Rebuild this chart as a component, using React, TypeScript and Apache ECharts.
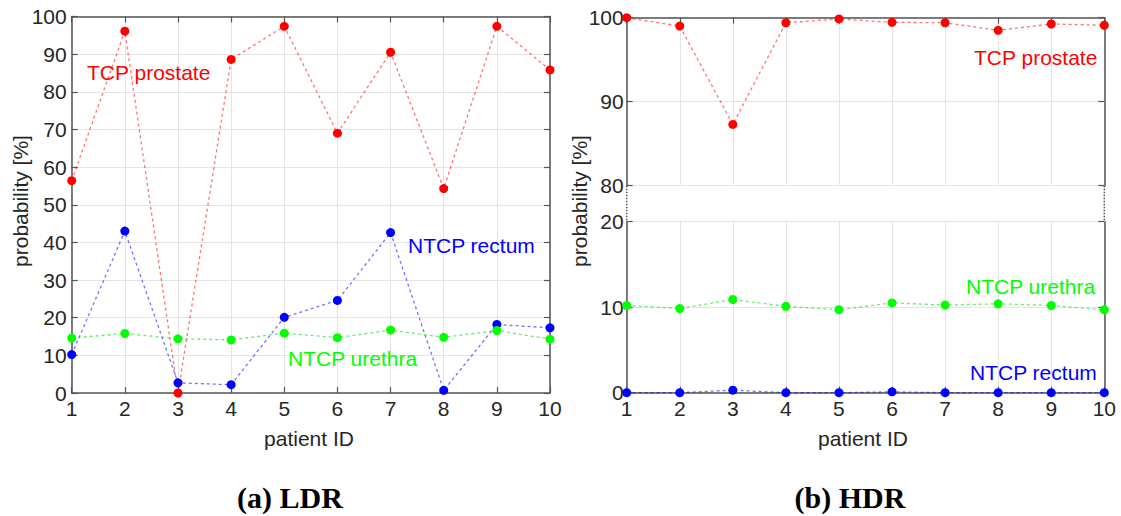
import React, { useEffect, useRef } from "react";
import * as echarts from "echarts";

const patients = [1, 2, 3, 4, 5, 6, 7, 8, 9, 10];
const ldrTcpProstate = [56.4, 96.1, 0.0, 88.6, 97.4, 69.0, 90.5, 54.3, 97.4, 85.8];
const ldrNtcpRectum = [10.2, 43.0, 2.7, 2.2, 20.1, 24.6, 42.6, 0.7, 18.2, 17.3];
const ldrNtcpUrethra = [14.6, 15.8, 14.4, 14.1, 15.9, 14.7, 16.7, 14.8, 16.6, 14.3];
const hdrTcpProstate = [100.0, 99.0, 87.3, 99.4, 99.85, 99.45, 99.4, 98.5, 99.25, 99.1];
const hdrNtcpUrethra = [10.2, 9.85, 10.9, 10.1, 9.7, 10.5, 10.25, 10.4, 10.2, 9.7];
const hdrNtcpRectum = [0.0, 0.0, 0.3, 0.0, 0.0, 0.1, 0.0, 0.0, 0.0, 0.0];

const RED = "#ff0000";
const BLUE = "#0000ff";
const GREEN = "#00ff00";
const AXIS = "#555555";
const GRIDC = "#e4e4e4";
const TXT = "#262626";
const FONT = '"Liberation Sans", Arial, sans-serif';

const pairs = (vals: number[]) => patients.map((p, i) => [p, vals[i]]);

export default function App() {
  const ref = useRef<HTMLDivElement>(null);
  useEffect(() => {
    document.body.style.margin = "0";
    if (!ref.current) return;
    const chart = echarts.init(ref.current, null, { renderer: "svg" });

    const axisLineStyle = (show: boolean) => ({
      show,
      onZero: false,
      lineStyle: { color: AXIS, width: 1.5 },
    });
    const tickStyle = (show: boolean) => ({
      show,
      inside: true,
      length: 6,
      lineStyle: { color: AXIS, width: 1.2 },
    });

    const xBottom = (gridIndex: number, labels: boolean, line: boolean) => ({
      type: "value",
      gridIndex,
      min: 1,
      max: 10,
      interval: 1,
      position: "bottom",
      axisLine: axisLineStyle(line),
      axisTick: tickStyle(line),
      axisLabel: {
        show: labels,
        margin: 5,
        color: TXT,
        fontSize: 21,
        fontFamily: FONT,
        showMinLabel: true,
        showMaxLabel: true,
      },
      splitLine: { show: true, lineStyle: { color: GRIDC, width: 1 } },
    });
    const xTop = (gridIndex: number, line: boolean) => ({
      type: "value",
      gridIndex,
      min: 1,
      max: 10,
      interval: 1,
      position: "top",
      axisLine: axisLineStyle(line),
      axisTick: tickStyle(line),
      axisLabel: { show: false },
      splitLine: { show: false },
    });
    const yLeft = (gridIndex: number, min: number, max: number, margin: number) => ({
      type: "value",
      gridIndex,
      min,
      max,
      interval: 10,
      position: "left",
      axisLine: axisLineStyle(true),
      axisTick: tickStyle(true),
      axisLabel: {
        show: true,
        margin,
        color: TXT,
        fontSize: 21,
        fontFamily: FONT,
        showMinLabel: true,
        showMaxLabel: true,
      },
      splitLine: { show: true, lineStyle: { color: GRIDC, width: 1 } },
    });
    const yRight = (gridIndex: number, min: number, max: number) => ({
      type: "value",
      gridIndex,
      min,
      max,
      interval: 10,
      position: "right",
      axisLine: axisLineStyle(true),
      axisTick: tickStyle(true),
      axisLabel: { show: false },
      splitLine: { show: false },
    });

    const lineSeries = (vals: number[], color: string, xi: number, yi: number, lineAlpha: string) => ({
      type: "line",
      xAxisIndex: xi,
      yAxisIndex: yi,
      data: pairs(vals),
      symbol: "circle",
      symbolSize: 9,
      clip: false,
      itemStyle: { color },
      lineStyle: { color: lineAlpha, width: 1.3, type: [3, 3] },
      z: 5,
    });

    const label = (text: string, x: number, y: number, color: string) => ({
      type: "text",
      x,
      y,
      style: {
        text,
        fill: color,
        font: `21px ${FONT}`,
        textAlign: "left",
        textVerticalAlign: "middle",
      },
      z: 10,
    });

    const axisTitle = (text: string, x: number, y: number, rotated: boolean) => ({
      type: "text",
      x,
      y,
      rotation: rotated ? Math.PI / 2 : 0,
      style: {
        text,
        fill: TXT,
        font: `21px ${FONT}`,
        textAlign: "center",
        textVerticalAlign: "middle",
      },
    });

    const option = {
      animation: false,
      backgroundColor: "#ffffff",
      grid: [
        { left: 71.7, top: 16.5, width: 478.3, height: 376.5 },
        { left: 626.7, top: 17.7, width: 477.6, height: 168 },
        { left: 626.7, top: 221.7, width: 477.6, height: 171 },
      ],
      xAxis: [
        xBottom(0, true, true),
        xTop(0, true),
        xBottom(1, false, false),
        xTop(1, true),
        xBottom(2, true, true),
        xTop(2, false),
      ],
      yAxis: [
        yLeft(0, 0, 100, 5),
        yRight(0, 0, 100),
        yLeft(1, 80, 100, 3),
        yRight(1, 80, 100),
        yLeft(2, 0, 20, 3),
        yRight(2, 0, 20),
      ],
      series: [
        lineSeries(ldrTcpProstate, RED, 0, 0, "rgba(255,0,0,0.55)"),
        lineSeries(ldrNtcpRectum, BLUE, 0, 0, "rgba(0,0,255,0.55)"),
        lineSeries(ldrNtcpUrethra, GREEN, 0, 0, "rgba(0,230,0,0.6)"),
        lineSeries(hdrTcpProstate, RED, 2, 2, "rgba(255,0,0,0.55)"),
        lineSeries(hdrNtcpUrethra, GREEN, 4, 4, "rgba(0,230,0,0.6)"),
        lineSeries(hdrNtcpRectum, BLUE, 4, 4, "rgba(0,0,255,0.55)"),
      ],
      graphic: [
        label("TCP prostate", 87, 72, RED),
        label("NTCP rectum", 408, 245, BLUE),
        label("NTCP urethra", 288, 358, GREEN),
        label("TCP prostate", 974, 57, RED),
        label("NTCP urethra", 966, 286, GREEN),
        label("NTCP rectum", 970, 372, BLUE),
        {
          type: "line",
          shape: { x1: 626.7, y1: 185.7, x2: 626.7, y2: 221.7 },
          style: { stroke: AXIS, lineWidth: 1.5, lineDash: [1.5, 1.5] },
        },
        {
          type: "line",
          shape: { x1: 1104.3, y1: 185.7, x2: 1104.3, y2: 221.7 },
          style: { stroke: AXIS, lineWidth: 1.5, lineDash: [1.5, 1.5] },
        },
        axisTitle("probability [%]", 20, 201, true),
        axisTitle("probability [%]", 579, 201, true),
        axisTitle("patient ID", 309, 438, false),
        axisTitle("patient ID", 863, 438, false),
        {
          type: "text",
          x: 290,
          y: 497,
          style: {
            text: "(a) LDR",
            fill: "#000000",
            font: `bold 30px "Liberation Serif", "DejaVu Serif", serif`,
            textAlign: "center",
            textVerticalAlign: "middle",
          },
        },
        {
          type: "text",
          x: 850,
          y: 497,
          style: {
            text: "(b) HDR",
            fill: "#000000",
            font: `bold 30px "Liberation Serif", "DejaVu Serif", serif`,
            textAlign: "center",
            textVerticalAlign: "middle",
          },
        },
      ],
    };
    chart.setOption(option as any);
    return () => chart.dispose();
  }, []);
  return <div ref={ref} style={{ width: 1121, height: 516, position: "absolute", left: 0, top: 0 }} />;
}
